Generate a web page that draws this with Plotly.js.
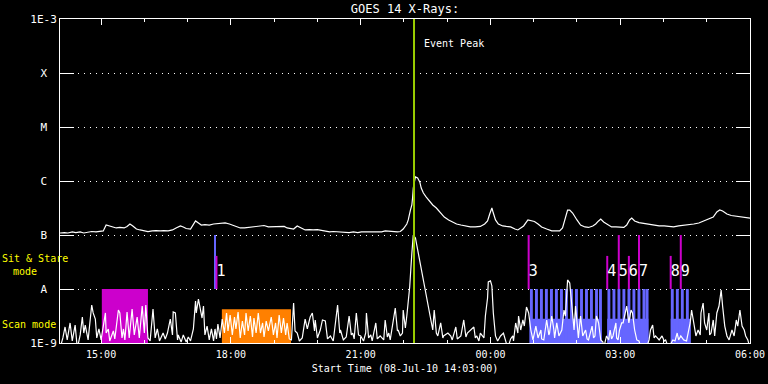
<!DOCTYPE html>
<html><head><meta charset="utf-8">
<script src="https://cdn.plot.ly/plotly-3.0.1.min.js"></script>
<style>
html,body{margin:0;padding:0;background:#000}
</style>
</head><body>
<div id="chart" style="width:768px;height:384px"></div>
<script>
// Time base: minutes after 08-Jul-2010 14:03:00
const START_UTC = Date.UTC(2010, 6, 8, 14, 3, 0);
const END_MIN = 957;

// GOES 14, 1-8 A channel (units of 1e-7 W/m^2)
const longMin = [0,6,11,17,22,28,33,39,44,50, 56,60,64,68,72,78,83,89,93,97,
 101,106,111,117,122,128,133,139,144,150, 156,161,167,171,175,181,185,188,192,196,
 201,207,213,218,224,229,235,240,246,250, 256,261,267,272,278,283,289,294,300,306,
 311,315,319,324,329,335,340,346,351,357, 363,368,374,379,385,390,396,401,407,413,
 418,424,429,435,440,446,451,457,463,468, 472,476,481,483,486,488,489,490,492,493,
 496,499,501,504,508,513,517,522,528,533, 539,544,550,556,563,569,576,583,589,593,
 596,599,601,604,608,614,619,625,631,635, 639,643,649,653,658,663,668,675,682,689,
 693,697,701,704,707,711,717,722,728,733, 739,743,747,750,754,760,765,771,776,782,
 786,790,793,797,803,810,817,824,831,838, 844,851,858,865,872,879,886,892,899,906,
 911,915,919,925,931,938,944,951,957];
const longFlux = [1.09,1.11,1.09,1.14,1.11,1.14,1.09,1.14,1.16,1.14, 1.16,1.19,1.53,1.47,1.41,1.35,1.38,1.35,1.44,1.60,
 1.47,1.29,1.24,1.19,1.16,1.19,1.21,1.19,1.21,1.19, 1.24,1.35,1.47,1.41,1.32,1.29,1.60,1.82,1.67,1.53,
 1.56,1.53,1.60,1.63,1.67,1.67,1.60,1.50,1.41,1.35, 1.35,1.38,1.41,1.44,1.47,1.50,1.41,1.41,1.44,1.41,
 1.44,1.35,1.32,1.29,1.47,1.35,1.24,1.26,1.24,1.26, 1.21,1.19,1.14,1.16,1.14,1.14,1.14,1.11,1.14,1.11,
 1.14,1.14,1.14,1.14,1.16,1.14,1.19,1.16,1.16,1.14, 1.16,1.29,1.60,1.90,2.90,3.60,4.84,7.4,10.4,11.9,
 11.4,9.6,7.4,6.0,5.05,4.08,3.60,3.16,2.55,2.15, 1.90,1.74,1.60,1.53,1.44,1.41,1.41,1.44,1.60,1.82,
 2.45,3.16,2.55,1.90,1.60,1.47,1.44,1.41,1.29,1.24, 1.35,1.47,1.90,1.82,1.78,1.60,1.41,1.29,1.19,1.19,
 1.19,1.35,1.98,2.90,2.90,2.55,1.90,1.53,1.41,1.38, 1.47,1.60,1.82,1.98,1.74,1.53,1.41,1.41,1.41,1.38,
 1.53,1.90,2.06,1.82,1.70,1.63,1.60,1.53,1.47,1.47, 1.44,1.41,1.47,1.50,1.53,1.60,1.67,1.82,1.98,2.15,
 2.67,2.90,2.78,2.45,2.30,2.25,2.15,2.10,2.06];

// GOES 14, 0.5-4 A channel (units of 1e-9 W/m^2)
const shortMin = [0,4,7,10,14,17,21,24,28,31, 33,35,39,44,46,49,51,54,57,63,
 64,67,69,74,76,81,83,86,88,90, 93,96,100,103,107,110,114,117,119,122,
 125,129,132,135,138,143,146,149,153,156, 157,160,163,164,168,171,175,178,181,185,
 188,189,192,194,197,199,201,204,207,210, 213,215,217,219,222,225,228,231,233,236,
 239,242,244,247,250,253,256,258,261,264, 267,269,272,275,278,281,283,286,289,293,
 296,299,301,304,307,310,313,315,318,321, 324,326,329,332,336,340,343,347,350,353,
 354,357,361,364,368,371,375,379,385,388, 389,393,397,401,404,406,408,411,414,417,
 421,424,425,428,431,433,438,440,444,449, 451,454,456,458,463,465,468,469,472,475,
 476,479,481,483,485,488,490,493,497,501, 506,508,511,514,517,519,522,524,528,531,
 532,538,542,544,549,551,556,560,563,565, 569,574,576,578,581,583,588,590,593,594,
 597,599,601,604,607,611,615,618,621,625, 628,629,632,635,636,639,642,644,647,650,
 653,656,660,663,664,667,668,671,675,678, 679,682,685,686,689,692,696,699,701,704,
 707,710,713,715,718,719,722,725,729,731, 733,738,740,742,744,747,750,753,754,758,
 761,763,765,767,771,772,774,776,779,781, 783,786,789,792,794,797,800,803,806,813,
 817,819,822,824,826,831,835,838,840,844, 850,853,856,858,861,865,869,874,876,879,
 882,885,888,889,892,894,897,900,901,903, 906,908,911,914,917,919,922,925,928,932,
 935,938,940,943,946,949,951,954,957];
const shortNano = [0.8,1.24,1.98,1.14,2.35,1.09,2.15,0.8,1.41,3.03, 1.53,2.15,1.14,5.05,3.6,2.78,1.24,1.82,1.14,3.6,
 1.53,1.82,1.09,1.67,1.19,4.08,3.6,1.24,1.82,1.14, 3.75,1.24,4.26,1.41,3.03,1.24,4.84,1.53,5.05,1.24,
 1.09,4.26,1.24,1.82,1.09,1.53,1.19,1.53,2.78,1.41, 3.75,3.6,1.14,1.41,1.04,1.41,1.04,1.29,1.09,1.82,
 6.0,3.6,6.5,4.84,2.9,4.84,1.41,2.06,1.14,1.82, 1.09,1.82,1.19,2.25,1.24,2.78,1.53,3.6,1.67,3.3,
 1.41,3.03,1.82,3.75,1.24,2.55,1.41,3.6,1.67,3.16, 1.29,2.9,1.53,3.6,1.53,2.35,1.29,2.55,1.67,3.03,
 1.41,2.35,1.24,3.3,1.53,2.9,1.41,2.35,1.19,1.14, 5.5,1.67,1.53,1.09,1.24,2.78,1.82,3.03,3.6,1.67,
 2.67,1.24,1.74,2.67,2.55,1.19,1.35,1.09,5.05,1.53, 1.74,1.14,1.29,3.16,1.41,1.53,1.19,3.6,1.41,1.35,
 1.09,1.53,3.6,1.24,1.41,1.09,2.35,1.19,1.35,1.14, 2.67,1.29,1.53,1.14,3.16,4.45,1.67,1.74,1.35,1.53,
 4.08,1.9,3.16,5.5,10.9,46,100,88,46,22.5, 10.9,7.1,4.84,2.67,1.74,4.08,1.53,1.35,2.35,1.24,
 1.35,1.53,1.35,1.14,1.98,1.19,1.35,2.67,1.29,1.53, 1.74,1.98,1.24,1.35,1.09,1.53,1.24,3.16,6.8,13.5,
 14.1,11.4,3.6,1.35,1.09,1.35,1.53,1.14,0.8,1.19, 1.35,1.09,2.35,1.53,3.16,1.74,2.67,2.06,4.64,3.6,
 1.74,1.14,2.06,1.24,1.35,1.74,1.19,1.14,2.67,1.41, 1.53,3.16,1.74,1.24,2.35,1.35,1.74,4.08,3.16,14.7,
 12.9,4.08,1.74,4.84,1.74,1.24,3.16,1.35,1.74,1.19, 1.14,2.06,1.24,1.35,3.16,2.35,1.14,1.04,0.8,1.35,
 1.14,1.74,1.19,1.35,2.35,1.24,1.14,1.74,2.35,2.35, 3.16,4.84,2.35,4.08,3.6,1.74,1.14,1.09,0.8,0.8,
 1.14,1.74,2.15,1.24,1.35,1.14,1.35,1.09,1.14,0.8, 1.14,1.09,1.53,1.14,1.35,1.14,1.09,2.35,4.08,2.35,
 1.35,1.74,1.41,3.6,5.5,2.35,1.74,3.6,1.41,1.53, 2.67,1.35,3.6,4.84,9.6,4.84,2.06,1.35,1.14,1.74,
 1.35,2.67,2.06,4.08,2.06,1.74,1.35,1.14,0.8];

// Observing-mode periods (minutes after start)
const modeStart = [58, 224.5, 651, 759, 847];
const modeEnd   = [122, 320.4, 751, 816, 875];
const modeTop   = [1e-8, 4.2e-9, 2.8e-9, 2.8e-9, 2.8e-9];
const modeColor = ['#cc00cc', '#ff8000', '#6666ff', '#6666ff', '#6666ff'];

// Sit & stare pointings inside the scan periods (minutes after start)
const stareStart = [651.8,658.8,665.7,672.6,679.6,686.5,693.5,700.4,707.4,714.3,721.3,728.2,735.1,742.1,747.6,
 759.3,766.3,773.2,780.1,787.1,794.0,801.0,807.9,812.3, 847.2,854.2,861.1,868.1];
const stareLen = 4.0;
const stareTop = 1e-8;

// Event markers
const markMin   = [215, 217, 650, 759, 775, 789, 803, 847, 861];
const markTop   = [1e-7, 4.1e-8, 1e-7, 4.1e-8, 1e-7, 4.1e-8, 1e-7, 4.1e-8, 1e-7];
const markColor = ['#6666ff', '#cc00cc', '#cc00cc', '#cc00cc', '#cc00cc', '#cc00cc', '#cc00cc', '#cc00cc', '#cc00cc'];
const markBottom = 1e-8;
const labelMin  = [217, 650, 759, 775, 789, 803, 847, 861];
const labelText = ['1', '3', '4', '5', '6', '7', '8', '9'];
const labelFlux = 2.07e-8;

const peakMin = 491;

const yTickVals = [1e-9, 1e-8, 1e-7, 1e-6, 1e-5, 1e-4, 1e-3];
const PAD = '\u00a0<span style="font-size:5px">\u00a0</span>';
const yTickText = ['1E-9', 'A' + PAD, 'B' + PAD, 'C' + PAD, 'M' + PAD, 'X' + PAD, '1E-3'];

const FLOOR = 1e-10, CEIL = 1e-2;
function toDate(m) {
  return new Date(START_UTC + m * 60000).toISOString().slice(0, 23).replace('T', ' ');
}

const traces = [];
// mode blocks
for (let i = 0; i < modeStart.length; i++) {
  const s = toDate(modeStart[i]), e = toDate(modeEnd[i]);
  traces.push({type: 'scatter', mode: 'lines', x: [s, s, e, e, s],
    y: [FLOOR, modeTop[i], modeTop[i], FLOOR, FLOOR],
    fill: 'toself', fillcolor: modeColor[i], line: {width: 0, color: modeColor[i]}, hoverinfo: 'skip'});
}
// stare stripes
{
  const xs = [], ys = [];
  stareStart.forEach(s0 => {
    const s = toDate(s0), e = toDate(s0 + stareLen);
    xs.push(s, s, e, e, s, null);
    ys.push(FLOOR, stareTop, stareTop, FLOOR, FLOOR, null);
  });
  traces.push({type: 'scatter', mode: 'lines', x: xs, y: ys, fill: 'toself',
    fillcolor: '#6666ff', line: {width: 0, color: '#6666ff'}, hoverinfo: 'skip'});
}
// light curves
traces.push({type: 'scatter', mode: 'lines', x: shortMin.map(toDate), y: shortNano.map(v => v * 1e-9),
  line: {color: '#ffffff', width: 1.2}, hoverinfo: 'skip'});
traces.push({type: 'scatter', mode: 'lines', x: longMin.map(toDate), y: longFlux.map(v => v * 1e-7),
  line: {color: '#ffffff', width: 1.2}, hoverinfo: 'skip'});
// markers
for (let i = 0; i < markMin.length; i++) {
  const t = toDate(markMin[i]);
  traces.push({type: 'scatter', mode: 'lines', x: [t, t], y: [markBottom, markTop[i]],
    line: {color: markColor[i], width: 2}, hoverinfo: 'skip'});
}
traces.push({type: 'scatter', mode: 'text', x: labelMin.map(toDate), y: labelMin.map(() => labelFlux),
  text: labelText, textposition: 'middle right', cliponaxis: false,
  textfont: {family: 'DejaVu Sans Mono', size: 15, color: '#ffffff'}, hoverinfo: 'skip'});
// event peak line
traces.push({type: 'scatter', mode: 'lines', x: [toDate(peakMin), toDate(peakMin)], y: [FLOOR, CEIL],
  line: {color: '#99cc00', width: 2}, hoverinfo: 'skip'});

const FONT = 'DejaVu Sans Mono';
const layout = {
  width: 768, height: 384,
  margin: {l: 60, r: 18, t: 19, b: 41, pad: 0},
  paper_bgcolor: '#000000', plot_bgcolor: '#000000',
  font: {family: FONT, color: '#ffffff', size: 10},
  showlegend: false,
  title: {text: 'GOES 14 X-Rays:', xref: 'paper', x: 0.5, xanchor: 'center',
    yref: 'container', y: 1 - 9 / 384, yanchor: 'middle', font: {family: FONT, size: 12, color: '#ffffff'}},
  xaxis: {
    type: 'date', range: [toDate(0), toDate(END_MIN)],
    tickmode: 'linear', tick0: '2010-07-08 15:00:00', dtick: 3 * 3600000, tickformat: '%H:%M',
    ticks: 'inside', ticklen: 6, tickwidth: 1, tickcolor: '#ffffff',
    minor: {tick0: '2010-07-08 15:00:00', dtick: 3600000, ticks: 'inside', ticklen: 3, tickcolor: '#ffffff', showgrid: false},
    showline: true, linecolor: '#ffffff', linewidth: 1, mirror: 'ticks',
    showgrid: false, zeroline: false, ticklabelstandoff: 2,
    tickfont: {family: FONT, size: 10, color: '#ffffff'},
    title: {text: 'Start Time (08-Jul-10 14:03:00)', standoff: 5, font: {family: FONT, size: 10, color: '#ffffff'}}
  },
  yaxis: {
    type: 'log', range: [-9, -3],
    tickmode: 'array', tickvals: yTickVals, ticktext: yTickText,
    ticks: 'inside', ticklen: 14, tickwidth: 1, tickcolor: '#ffffff',
    showline: true, linecolor: '#ffffff', linewidth: 1, mirror: 'ticks',
    showgrid: true, gridcolor: '#ffffff', gridwidth: 1, griddash: '1px,5px', zeroline: false,
    tickfont: {family: FONT, size: 11, color: '#ffffff'}
  },
  annotations: [
    {xref: 'x', x: toDate(peakMin), yref: 'paper', y: (343 - 43) / 324, xanchor: 'left', yanchor: 'middle',
      xshift: 8, text: 'Event Peak', showarrow: false, font: {family: FONT, size: 10, color: '#ffffff'}},
    {xref: 'paper', x: (0 - 60) / 690, yref: 'paper', y: (343 - 258) / 324, xanchor: 'left', yanchor: 'middle',
      text: 'Sit & Stare', showarrow: false, font: {family: FONT, size: 10, color: '#ffff00'}},
    {xref: 'paper', x: (11 - 60) / 690, yref: 'paper', y: (343 - 271) / 324, xanchor: 'left', yanchor: 'middle',
      text: 'mode', showarrow: false, font: {family: FONT, size: 10, color: '#ffff00'}},
    {xref: 'paper', x: (0 - 60) / 690, yref: 'paper', y: (343 - 324) / 324, xanchor: 'left', yanchor: 'middle',
      text: 'Scan mode', showarrow: false, font: {family: FONT, size: 10, color: '#ffff00'}}
  ]
};

Plotly.newPlot('chart', traces, layout, {staticPlot: true, displayModeBar: false});
</script>
</body></html>
